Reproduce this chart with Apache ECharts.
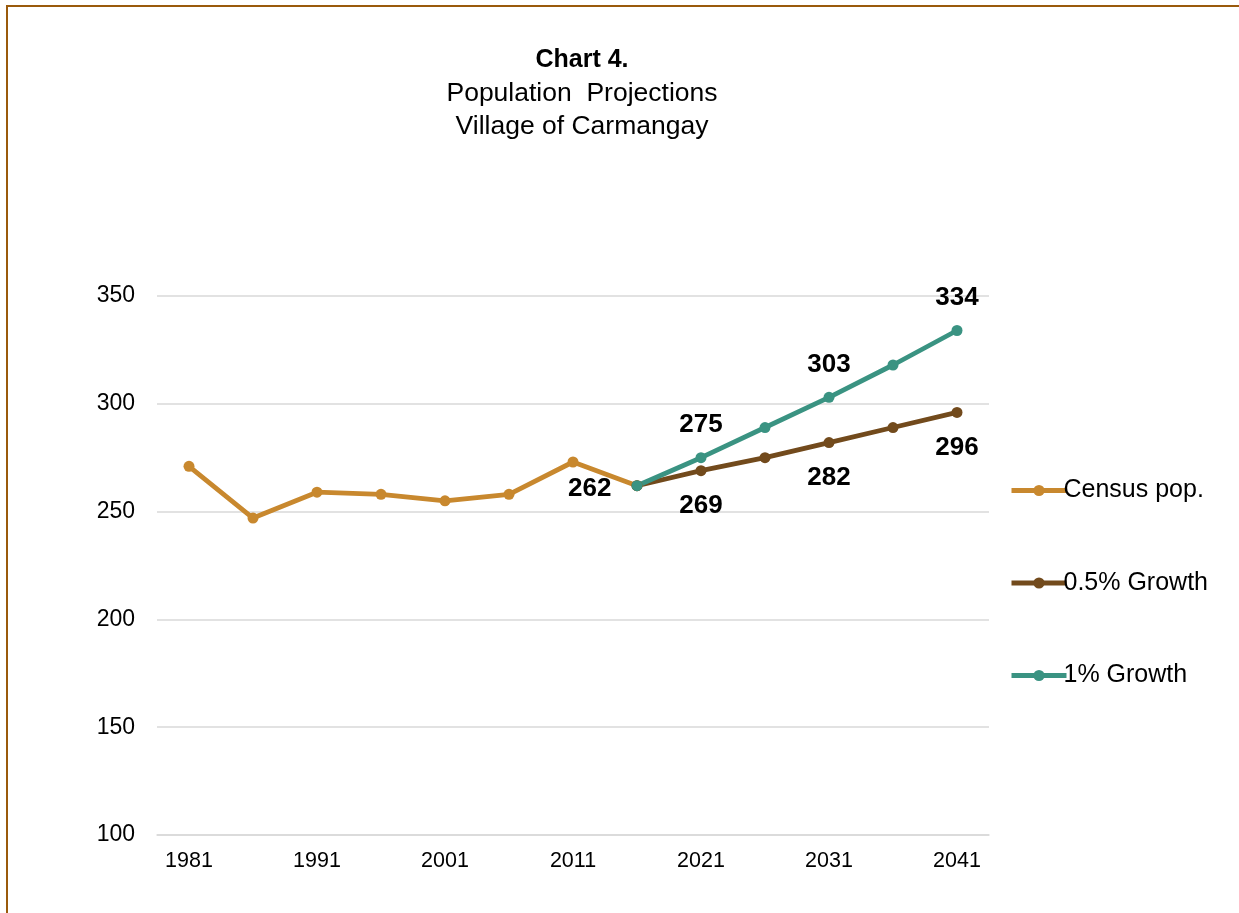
<!DOCTYPE html>
<html><head><meta charset="utf-8">
<script src="https://cdn.jsdelivr.net/npm/echarts@6/dist/echarts.min.js"></script>
<style>
html,body{margin:0;padding:0;background:#fff;}
#wrap{position:absolute;left:0;top:0;width:1239px;height:913px;}
#frame{position:absolute;left:6px;top:5px;width:1239px;height:913px;border-top:2px solid #9A5A0C;border-left:2px solid #9A5A0C;box-sizing:border-box;}
#c{position:absolute;left:0;top:0;width:1239px;height:913px;}
</style></head>
<body><div id="wrap"><div id="c"></div><div id="frame"></div></div>
<script>
const years = ['1981','1986','1991','1996','2001','2006','2011','2016','2021','2026','2031','2036','2041'];
const census = [271, 247, 259, 258, 255, 258, 273, 262, null, null, null, null, null];
const growth05 = [null, null, null, null, null, null, null, 262, 269, 275, 282, 289, 296];
const growth1 = [null, null, null, null, null, null, null, 262, 275, 289, 303, 318, 334];
const yTicks = [100, 150, 200, 250, 300, 350];
const seriesNames = ['Census pop.', '0.5% Growth', '1% Growth'];

const font = 'Liberation Sans, Arial, sans-serif';
const chart = echarts.init(document.getElementById('c'), null, {renderer:'canvas'});

function withLabels(arr, idxs, pos, dist, offset) {
  return arr.map((v, i) => {
    if (v != null && idxs.includes(i)) {
      return {value: v, label: {show: true, position: pos, distance: dist, offset: offset, fontSize: 26, fontWeight: 'bold', color: '#000', fontFamily: font}};
    }
    return v;
  });
}

const lineCommon = {type:'line', symbol:'circle', symbolSize:11, connectNulls:false, lineStyle:{width:4.8}, emphasis:{disabled:true}, z:2};

chart.setOption({
  animation:false,
  title:{
    text:'Chart 4.',
    subtext:'Population  Projections\nVillage of Carmangay',
    left:577, top:43, textAlign:'center', itemGap:4,
    textStyle:{fontFamily:font, fontSize:25, fontWeight:'bold', color:'#000'},
    subtextStyle:{fontFamily:font, fontSize:26.5, color:'#000', lineHeight:33}
  },
  legend:{
    orient:'vertical', left:1004, top:473, itemGap:67.5,
    itemWidth:55, itemHeight:14,
    lineStyle:{width:5},
    textStyle:{fontFamily:font, fontSize:25, lineHeight:25, color:'#000', padding:[0,0,0,-8]},
    data: seriesNames
  },
  grid:{left:157, right:250, top:296, bottom:78, containLabel:false},
  xAxis:{
    type:'category', data:years, boundaryGap:true,
    axisLine:{show:true, lineStyle:{color:'#D9D9D9', width:1.5}},
    axisTick:{show:false},
    axisLabel:{interval:1, fontFamily:font, fontSize:21.5, color:'#000', margin:15}
  },
  yAxis:{
    type:'value', min:yTicks[0], max:yTicks[yTicks.length-1], interval:50,
    axisLine:{show:false}, axisTick:{show:false},
    axisLabel:{fontFamily:font, fontSize:23, color:'#000', margin:22},
    splitLine:{lineStyle:{color:'#D9D9D9', width:1.5}}
  },
  series:[
    Object.assign({}, lineCommon, {name:seriesNames[0], color:'#C8882E', data:withLabels(census,[7],'left',20,[0,3])}),
    Object.assign({}, lineCommon, {name:seriesNames[1], color:'#724A1C', data:withLabels(growth05,[8,10,12],'bottom',17,[0,0])}),
    Object.assign({}, lineCommon, {name:seriesNames[2], color:'#3A9382', data:withLabels(growth1,[8,10,12],'top',14,[0,0])})
  ]
});
</script>
</body></html>
